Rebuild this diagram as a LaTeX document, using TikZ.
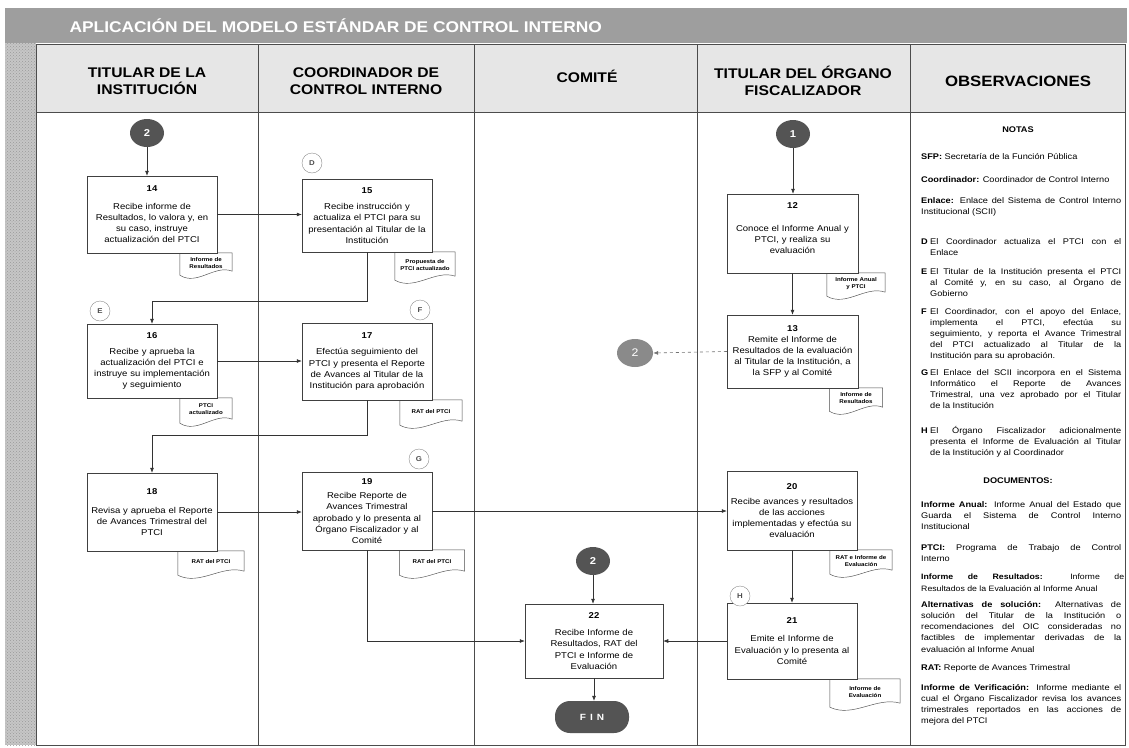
\documentclass[tikz,border=0pt]{standalone}
\usepackage{fontspec}
\setmainfont{Liberation Sans}[FakeStretch=1.12]
\usetikzlibrary{arrows.meta,calc,shadows,patterns,shapes.geometric}
\pgfdeclarelayer{background}
\pgfdeclarelayer{docbg}
\pgfsetlayers{background,docbg,main}

\definecolor{titlegray}{HTML}{9E9E9E}
\definecolor{headgray}{HTML}{E6E6E6}
\definecolor{darkc}{HTML}{545454}
\definecolor{midc}{HTML}{8A8A8A}
\definecolor{linec}{HTML}{333333}

\tikzset{
 proc/.style={draw=black!75, fill=white, line width=0.5pt, minimum width=130pt, minimum height=76pt, text width=126pt, align=center, inner sep=2pt, font=\fontsize{8.5}{11.2}\selectfont, drop shadow={shadow xshift=1.3pt, shadow yshift=-1.3pt, opacity=0.35, fill=black!60}},
 docu/.style={inner sep=1pt, align=center, font=\bfseries\fontsize{5.5}{7}\selectfont},
 docline/.style={draw=black!70, fill=white, line width=0.45pt},
 conn/.style={ellipse, fill=darkc, text=white, minimum width=34pt, minimum height=28pt, inner sep=0pt, font=\bfseries\fontsize{10}{12}\selectfont},
 letter/.style={circle, draw=black!45, fill=white, minimum size=20pt, inner sep=0pt, font=\bfseries\fontsize{7}{8}\selectfont, text=black!70},
 arr/.style={draw=linec, line width=0.6pt, -{Latex[length=5pt,width=4pt]}},
 hdr/.style={align=center, font=\bfseries\fontsize{14}{17}\selectfont},
 obs/.style={anchor=north west, inner sep=0pt, text width=200pt, align=justify, font=\fontsize{8.2}{11.2}\selectfont},
 obsc/.style={inner sep=0pt, font=\bfseries\fontsize{8.2}{11.2}\selectfont},
 lane/.style={draw=black!70, line width=0.7pt},
}

\newcommand\docshape[1]{%
 \begin{pgfonlayer}{docbg}
 \draw[docline] ([yshift=-2pt]#1.south west) -- (#1.north west) -- (#1.north east) -- ([yshift=2pt]#1.south east)
   .. controls ($(#1.south east)!0.33!(#1.south west)+(0,9pt)$) and ($(#1.south east)!0.67!(#1.south west)+(0,-13pt)$) .. ([yshift=-2pt]#1.south west) -- cycle;
 \end{pgfonlayer}}
\newcommand\itemlet[2]{{\hangindent=9pt\hangafter=1\noindent\makebox[9pt][l]{\bfseries #1}#2\par}}

\begin{document}
\begin{tikzpicture}[x=1pt,y=-1pt]
\useasboundingbox (0,0) rectangle (1129,747);

\begin{pgfonlayer}{background}
 \fill[white] (0,0) rectangle (1129,747);
 \fill[titlegray] (5,8) rectangle (1127,43);
 \fill[gray!45] (5,43) rectangle (36,745);
 \fill[pattern=crosshatch dots, pattern color=gray!80] (5,43) rectangle (36,745);
 \fill[headgray] (36,44) rectangle (1125,112);
 \draw[lane] (36,44) rectangle (1125,745);
 \draw[lane] (36,112) -- (1125,112);
 \draw[lane] (258,44) -- (258,745);
 \draw[lane] (474,44) -- (474,745);
 \draw[lane] (697,44) -- (697,745);
 \draw[lane] (910,44) -- (910,745);
\end{pgfonlayer}

% title and headers
\node[anchor=west, text=white, font=\bfseries\fontsize{15.5}{18}\selectfont] (title) at (66,26) {APLICACIÓN DEL MODELO ESTÁNDAR DE CONTROL INTERNO};
\node[hdr] (h1) at (147,81) {TITULAR DE LA\\INSTITUCIÓN};
\node[hdr] (h2) at (366,81) {COORDINADOR DE\\CONTROL INTERNO};
\node[hdr] (h3) at (587,76) {COMITÉ};
\node[hdr] (h4) at (803,81) {TITULAR DEL ÓRGANO\\FISCALIZADOR};
\node[hdr, font=\bfseries\fontsize{15}{17}\selectfont] (h5) at (1018,81) {OBSERVACIONES};

% documents
\node[docu, minimum width=52pt, minimum height=20pt] (d14) at (206,263) {Informe de\\Resultados}; \docshape{d14}
\node[docu, minimum width=60pt, minimum height=26pt] (d15) at (425,265) {Propuesta de\\PTCI actualizado}; \docshape{d15}
\node[docu, minimum width=52pt, minimum height=23pt] (d16) at (206,409.5) {PTCI\\actualizado}; \docshape{d16}
\node[docu, minimum width=62pt, minimum height=23pt] (d17) at (431,411.5) {RAT del PTCI}; \docshape{d17}
\node[docu, minimum width=66pt, minimum height=22pt] (d18) at (211,562) {RAT del PTCI}; \docshape{d18}
\node[docu, minimum width=65pt, minimum height=23pt] (d19) at (432,561.5) {RAT del PTCI}; \docshape{d19}
\node[docu, minimum width=58pt, minimum height=21pt] (d12) at (856,283.5) {Informe Anual\\y PTCI}; \docshape{d12}
\node[docu, minimum width=53pt, minimum height=21pt] (d13) at (856,398.5) {Informe de\\Resultados}; \docshape{d13}
\node[docu, minimum width=62pt, minimum height=22pt] (d20) at (861,561) {RAT e Informe de\\Evaluación}; \docshape{d20}
\node[docu, minimum width=70pt, minimum height=26pt] (d21) at (865,692) {Informe de\\Evaluación}; \docshape{d21}

% process boxes
\node[proc, minimum height=77pt] (n14) at (152,214.5) {\textbf{14}\\[6pt]Recibe informe de\\Resultados, lo valora y, en\\su caso, instruye\\actualización del PTCI};
\node[proc, minimum height=73pt] (n15) at (367,215.5) {\textbf{15}\\[5pt]Recibe instrucción y\\actualiza el PTCI para su\\presentación al Titular de la\\Institución};
\node[proc, minimum height=74pt] (n16) at (152,361) {\textbf{16}\\[5pt]Recibe y aprueba la\\actualización del PTCI e\\instruye su implementación\\y seguimiento};
\node[proc, minimum height=77pt] (n17) at (367,361.5) {\textbf{17}\\[5pt]Efectúa seguimiento del\\PTCI y presenta el Reporte\\de Avances al Titular de la\\Institución para aprobación};
\node[proc, minimum height=78pt] (n18) at (152,512) {\textbf{18}\\[8pt]Revisa y aprueba el Reporte\\de Avances Trimestral del\\PTCI};
\node[proc, minimum height=78pt] (n19) at (367,511) {\textbf{19}\\[3pt]Recibe Reporte de\\Avances Trimestral\\aprobado y lo presenta al\\Órgano Fiscalizador y al\\Comité};
\node[proc, minimum width=131pt, minimum height=79pt] (n12) at (792.5,233.5) {\textbf{12}\\[12pt]Conoce el Informe Anual y\\PTCI, y realiza su\\evaluación\\\mbox{}};
\node[proc, minimum width=131pt, minimum height=73pt] (n13) at (792.5,351.5) {\textbf{13}\\Remite el Informe de\\Resultados de la evaluación\\al Titular de la Institución, a\\la SFP y al Comité};
\node[proc, minimum height=79pt] (n20) at (792,510.5) {\textbf{20}\\[4pt]Recibe avances y resultados\\de las acciones\\implementadas y efectúa su\\evaluación};
\node[proc, minimum height=76pt] (n21) at (792,641) {\textbf{21}\\[7pt]Emite el Informe de\\Evaluación y lo presenta al\\Comité};
\node[proc, minimum width=138pt, minimum height=74pt] (n22) at (594,641) {\textbf{22}\\[6pt]Recibe Informe de\\Resultados, RAT del\\PTCI e Informe de\\Evaluación};

% connectors
\node[conn] (c2a) at (147,133) {2};
\node[conn] (c1) at (793,134) {1};
\node[conn] (c2b) at (593,561) {2};
\node[conn, fill=midc, minimum width=36pt, font=\fontsize{11}{12}\selectfont] (c2r) at (635,353) {2};
\node[fill=darkc, rounded corners=15pt, minimum width=74pt, minimum height=32pt, text=white, font=\bfseries\fontsize{9}{10}\selectfont] (fin) at (592,717) {F\hspace{4pt}I\hspace{4pt}N};

% letter markers
\node[letter] (lD) at (312,163) {D};
\node[letter] (lE) at (100,311) {E};
\node[letter] (lF) at (420,310) {F};
\node[letter] (lG) at (419,459) {G};
\node[letter] (lH) at (740,596) {H};

% flows
\draw[arr] (c2a.south) -- (c2a.south |- n14.north);
\draw[arr] (n14.east) -- (n14.east -| n15.west);
\draw[arr] (n15.south) |- ($(n16.north)+(0,22pt)$) -- (n16.north);
\draw[arr] (n16.east) -- (n16.east -| n17.west);
\draw[arr] (n17.south) |- ($(n18.north)+(0,37pt)$) -- (n18.north);
\draw[arr] (n18.east) -- (n18.east -| n19.west);
\draw[arr] (n19.east) -- (n19.east -| n20.west);
\draw[arr] (n19.south) |- (n22.west);
\draw[arr] (c1.south) -- (c1.south |- n12.north);
\draw[arr] (n12.south) -- (n12.south |- n13.north);
\draw[arr, dashed, draw=black!55] (n13.west) -- (c2r.east);
\draw[arr] (n20.south) -- (n20.south |- n21.north);
\draw[arr] (n21.west) -- (n21.west -| n22.east);
\draw[arr] (c2b.south) -- (c2b.south |- n22.north);
\draw[arr] (n22.south) -- (n22.south |- fin.north);

% observaciones
\node[obsc] (notas) at (1018,130) {NOTAS};
\node[obs] (o1) at (921,153) {\textbf{SFP:} Secretaría de la Función Pública};
\node[obs] (o2) at (921,176) {\textbf{Coordinador:} Coordinador de Control Interno};
\node[obs] (o3) at (921,197) {\textbf{Enlace:} Enlace del Sistema de Control Interno\linebreak Institucional (SCII)};
\node[obs] (oD) at (921,238) {\itemlet{D}{El Coordinador actualiza el PTCI con el\linebreak Enlace}};
\node[obs] (oE) at (921,268) {\itemlet{E}{El Titular de la Institución presenta el PTCI\linebreak al Comité y, en su caso, al Órgano de\linebreak Gobierno}};
\node[obs] (oF) at (921,308) {\itemlet{F}{El Coordinador, con el apoyo del Enlace,\linebreak implementa el PTCI, efectúa su\linebreak seguimiento, y reporta el Avance Trimestral\linebreak del PTCI actualizado al Titular de la\linebreak Institución para su aprobación.}};
\node[obs] (oG) at (921,369) {\itemlet{G}{El Enlace del SCII incorpora en el Sistema\linebreak Informático el Reporte de Avances\linebreak Trimestral, una vez aprobado por el Titular\linebreak de la Institución}};
\node[obs] (oH) at (921,426) {\itemlet{H}{El Órgano Fiscalizador adicionalmente\linebreak presenta el Informe de Evaluación al Titular\linebreak de la Institución y al Coordinador}};
\node[obsc] (docs) at (1018,481) {DOCUMENTOS:};
\node[obs] (oIA) at (921,501) {\textbf{Informe Anual:} Informe Anual del Estado que\linebreak Guarda el Sistema de Control Interno\linebreak Institucional};
\node[obs] (oPT) at (921,544) {\textbf{PTCI:} Programa de Trabajo de Control\linebreak Interno};
\node[obs, text width=203pt, font=\fontsize{7.8}{11.2}\selectfont] (oIR) at (921,574) {\textbf{Informe de Resultados:} Informe de\linebreak \mbox{Resultados de la Evaluación al Informe Anual}};
\node[obs] (oAl) at (921,601) {\textbf{Alternativas de solución:} Alternativas de\linebreak solución del Titular de la Institución o\linebreak recomendaciones del OIC consideradas no\linebreak factibles de implementar derivadas de la\linebreak evaluación al Informe Anual};
\node[obs] (oRA) at (921,664) {\textbf{RAT:} Reporte de Avances Trimestral};
\node[obs] (oIV) at (921,684) {\textbf{Informe de Verificación:} Informe mediante el\linebreak cual el Órgano Fiscalizador revisa los avances\linebreak trimestrales reportados en las acciones de\linebreak mejora del PTCI};
\end{tikzpicture}
\end{document}
